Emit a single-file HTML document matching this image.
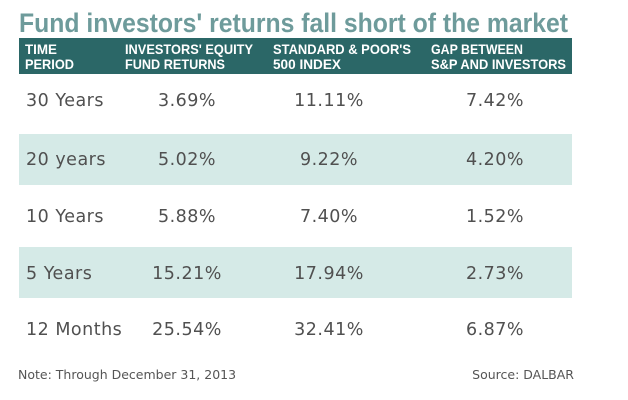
<!DOCTYPE html>
<html><head><meta charset="utf-8"><style>
html,body{margin:0;padding:0;background:#fff;}
svg{display:block;}
</style></head><body>
<svg width="628" height="400" viewBox="0 0 628 400">
<text x="19" y="32" font-family="'Liberation Sans Narrow','Liberation Sans',sans-serif" font-weight="bold" font-size="27" fill="#6e9b9b" textLength="549" lengthAdjust="spacingAndGlyphs">Fund investors' returns  fall short of the market</text>
<rect x="19" y="38" width="553" height="36" fill="#2b6767"/>
<g font-family="'Liberation Sans Narrow','Liberation Sans',sans-serif" font-weight="bold" font-size="14" fill="#fff">
<text x="25" y="54" textLength="32" lengthAdjust="spacingAndGlyphs">TIME</text>
<text x="25" y="69" textLength="49" lengthAdjust="spacingAndGlyphs">PERIOD</text>
<text x="125" y="54" textLength="128" lengthAdjust="spacingAndGlyphs">INVESTORS' EQUITY</text>
<text x="125" y="69" textLength="100" lengthAdjust="spacingAndGlyphs">FUND RETURNS</text>
<text x="273" y="54" textLength="138" lengthAdjust="spacingAndGlyphs">STANDARD &amp; POOR'S</text>
<text x="273" y="69" textLength="68" lengthAdjust="spacingAndGlyphs">500 INDEX</text>
<text x="431" y="54" textLength="92" lengthAdjust="spacingAndGlyphs">GAP BETWEEN</text>
<text x="431" y="69" textLength="135" lengthAdjust="spacingAndGlyphs">S&amp;P AND INVESTORS</text>
</g>
<rect x="19" y="134" width="553" height="51" fill="#d5eae7"/>
<rect x="19" y="247" width="553" height="51" fill="#d5eae7"/>
<g font-family="'DejaVu Sans','Liberation Sans',sans-serif" font-size="17.5" fill="#505050" letter-spacing="0.5">
<g>
<text x="26" y="106">30 Years</text><text x="187" y="106" text-anchor="middle">3.69%</text><text x="329" y="106" text-anchor="middle">11.11%</text><text x="495" y="106" text-anchor="middle">7.42%</text></g>
<g>
<text x="26" y="165">20 years</text><text x="187" y="165" text-anchor="middle">5.02%</text><text x="329" y="165" text-anchor="middle">9.22%</text><text x="495" y="165" text-anchor="middle">4.20%</text></g>
<g>
<text x="26" y="222">10 Years</text><text x="187" y="222" text-anchor="middle">5.88%</text><text x="329" y="222" text-anchor="middle">7.40%</text><text x="495" y="222" text-anchor="middle">1.52%</text></g>
<g>
<text x="26" y="279">5 Years</text><text x="187" y="279" text-anchor="middle">15.21%</text><text x="329" y="279" text-anchor="middle">17.94%</text><text x="495" y="279" text-anchor="middle">2.73%</text></g>
<g>
<text x="26" y="335">12 Months</text><text x="187" y="335" text-anchor="middle">25.54%</text><text x="329" y="335" text-anchor="middle">32.41%</text><text x="495" y="335" text-anchor="middle">6.87%</text></g>
</g>
<text x="18" y="379" font-family="'DejaVu Sans','Liberation Sans',sans-serif" font-size="12.5" fill="#555">Note: Through December 31, 2013</text>
<text x="574" y="379" text-anchor="end" font-family="'DejaVu Sans','Liberation Sans',sans-serif" font-size="12.5" fill="#555">Source: DALBAR</text>
</svg>
</body></html>
